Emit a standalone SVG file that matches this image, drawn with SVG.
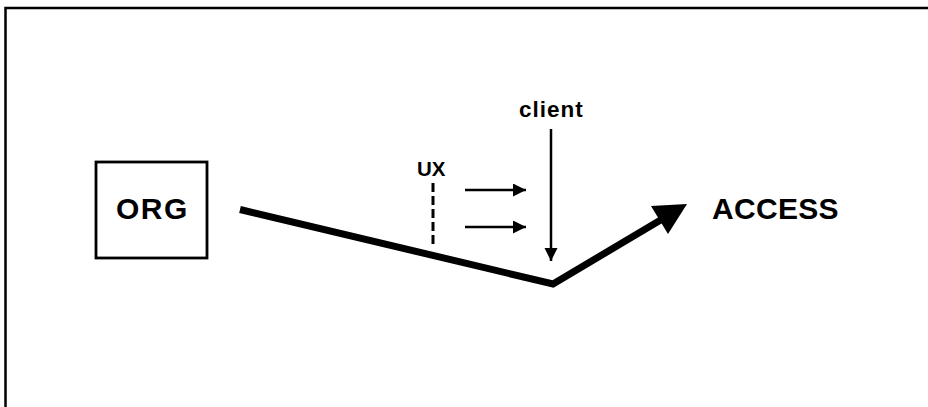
<svg xmlns="http://www.w3.org/2000/svg" width="928" height="407" viewBox="0 0 928 407">
<style>
.lbl{font-family:"Liberation Sans",Arial,sans-serif;font-weight:bold;fill:#000}
.thin{stroke:#000;stroke-width:2.5;fill:none}
</style>
<defs>
<marker id="ah" markerUnits="userSpaceOnUse" markerWidth="14" markerHeight="14" refX="13" refY="6.5" orient="auto">
<path d="M0,0 L13,6.5 L0,13 Z" fill="#000"/>
</marker>
</defs>
<rect width="928" height="407" fill="#fff"/>
<path d="M5.5,407 V8 H928" fill="none" stroke="#000" stroke-width="2.5"/>
<g id="org">
<rect x="96" y="162" width="111" height="96" fill="none" stroke="#000" stroke-width="2.8"/>
<text class="lbl" x="116" y="219" font-size="30" letter-spacing="1.5">ORG</text>
</g>
<g id="access">
<text class="lbl" x="712" y="219" font-size="30" letter-spacing="0.3">ACCESS</text>
</g>
<g id="client">
<text class="lbl" x="519" y="117" font-size="22.5" letter-spacing="1">client</text>
</g>
<g id="ux">
<text class="lbl" x="417" y="176" font-size="20.5">UX</text>
</g>
<g id="connectors">
<polyline points="240,209.5 553,284 664,218" fill="none" stroke="#000" stroke-width="7" stroke-linejoin="miter"/>
<polygon points="651,206 687,204 668,234" fill="#000"/>
<line class="thin" x1="551" y1="129" x2="551" y2="261" marker-end="url(#ah)"/>
<line class="thin" x1="465" y1="190" x2="526" y2="190" marker-end="url(#ah)"/>
<line class="thin" x1="465" y1="227" x2="526" y2="227" marker-end="url(#ah)"/>
<line x1="433" y1="183" x2="433" y2="244" stroke="#000" stroke-width="3" stroke-dasharray="9,4"/>
</g>
</svg>
